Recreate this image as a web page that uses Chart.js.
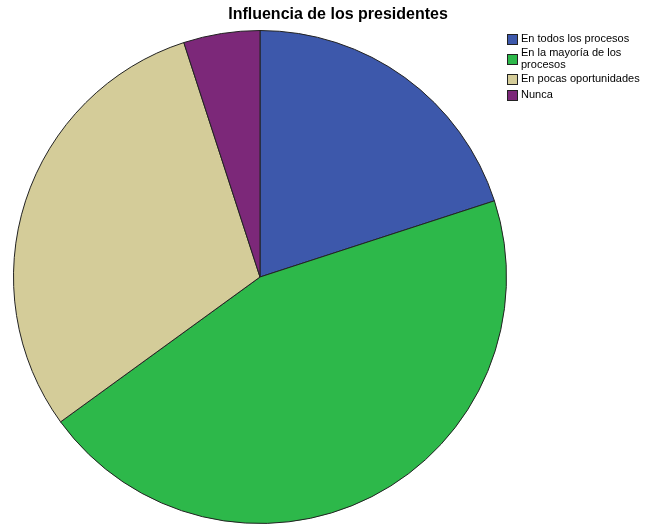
<!DOCTYPE html>
<html>
<head>
<meta charset="utf-8">
<script src="https://cdn.jsdelivr.net/npm/chart.js@4/dist/chart.umd.min.js"></script>
<style>
  html, body { margin: 0; padding: 0; background: #fff; }
  #wrap { width: 649px; height: 524px; }
</style>
</head>
<body>
<div id="wrap"><canvas id="pie" width="649" height="524"></canvas></div>
<script>
/* Influencia de los presidentes - pie */
const titleText = 'Influencia de los presidentes';
const categories = ['En todos los procesos', 'En la mayoría de los procesos', 'En pocas oportunidades', 'Nunca'];
// legend lines, wrapped like the original box
const legendLines = [['En todos los procesos'], ['En la mayoría de los', 'procesos'], ['En pocas oportunidades'], ['Nunca']];
const values = [20, 45, 30, 5];
const colors = ['#3d58ab', '#2db84a', '#d4cc99', '#7c2879'];

// row centres of the legend entries (text lines, then swatch)
const legendRows = [[39], [53, 65], [79], [95]];

// title + legend drawn by hand so the legend can wrap
const decor = {
  id: 'decor',
  afterDraw(chart) {
    const c = chart.ctx;
    c.save();
    c.fillStyle = '#000';
    c.font = 'bold 16px "Liberation Sans", Arial, sans-serif';
    c.textAlign = 'center';
    c.textBaseline = 'middle';
    c.fillText(titleText, 338, 15);

    c.font = '11px "Liberation Sans", Arial, sans-serif';
    c.textAlign = 'left';
    legendLines.forEach(function(lines, i) {
      const rows = legendRows[i];
      const mid = (rows[0] + rows[rows.length - 1]) / 2;
      const sq = Math.round(mid - 5);
      c.fillStyle = colors[i];
      c.fillRect(507, sq, 11, 11);
      c.strokeStyle = '#222';
      c.lineWidth = 1;
      c.strokeRect(507.5, sq + 0.5, 10, 10);
      c.fillStyle = '#000';
      lines.forEach(function(t, j) {
        c.fillText(t, 521, rows[j]);
      });
    });
    c.restore();
  }
};

new Chart(document.getElementById('pie'), {
  type: 'pie',
  data: {
    labels: categories,
    datasets: [{
      data: values,
      backgroundColor: colors,
      borderColor: '#222',
      borderWidth: 1
    }]
  },
  options: {
    responsive: false,
    animation: false,
    layout: { padding: { left: 13, right: 142, top: 30, bottom: 0 } },
    plugins: {
      legend: { display: false },
      title: { display: false },
      tooltip: { enabled: false }
    }
  },
  plugins: [decor]
});
</script>
</body>
</html>
